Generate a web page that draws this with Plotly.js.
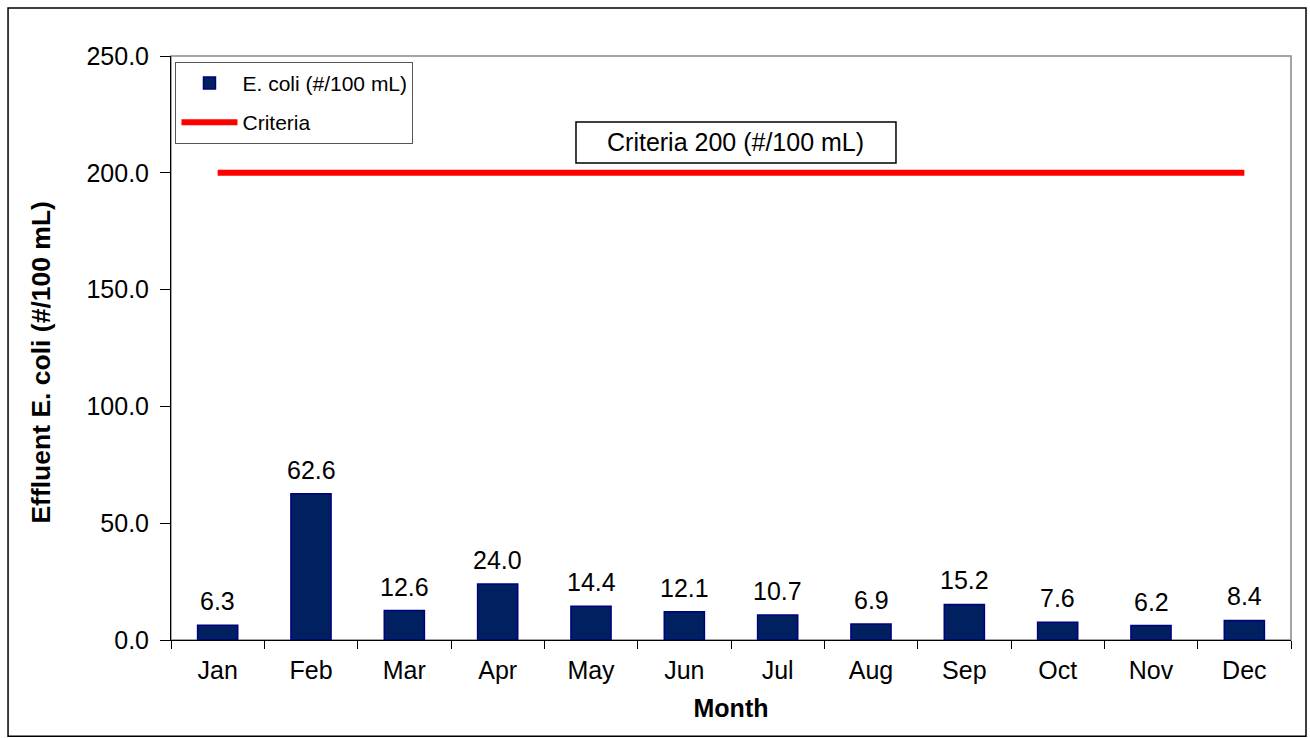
<!DOCTYPE html>
<html>
<head>
<meta charset="utf-8">
<script src="https://cdn.plot.ly/plotly-3.0.1.min.js"></script>
<style>html,body{margin:0;padding:0;background:#fff;}#chart{width:1310px;height:738px;}</style>
</head>
<body>
<div id="chart"></div>
<script>
const months = ["Jan","Feb","Mar","Apr","May","Jun","Jul","Aug","Sep","Oct","Nov","Dec"];
const ecoli = [6.3, 62.6, 12.6, 24.0, 14.4, 12.1, 10.7, 6.9, 15.2, 7.6, 6.2, 8.4];
const criteria = [200,200,200,200,200,200,200,200,200,200,200,200];
const criteriaLabel = "Criteria 200 (#/100 mL)";
const yTitle = "Effluent E. coli (#/100 mL)";
const xTitle = "Month";

const font = "Liberation Sans, Arial, sans-serif";
const fs = 25;

const traces = [
  {
    type: "bar", x: months, y: ecoli, name: "E. coli (#/100 mL)",
    legendgroup: "g1",
    width: 0.43,
    marker: {color: "#002060", line: {color: "#000080", width: 1.5}}
  },
  {
    type: "scatter", mode: "lines", x: months, y: criteria, name: "Criteria",
    legendgroup: "g2",
    line: {color: "#ff0000", width: 6}
  }
];

const labelAnnotations = months.map((m, i) => ({
  x: m, y: ecoli[i], xref: "x", yref: "y",
  text: ecoli[i].toFixed(1), showarrow: false,
  xanchor: "center", yanchor: "bottom", yshift: 8,
  font: {family: font, size: fs, color: "#000"}
}));

const layout = {
  width: 1310, height: 738,
  margin: {l: 171, r: 19, t: 56, b: 98},
  paper_bgcolor: "#fff", plot_bgcolor: "#fff",
  font: {family: font, color: "#000", size: fs},
  showlegend: true,
  legend: {
    x: 0.004, y: 0.99, xanchor: "left", yanchor: "top",
    bgcolor: "#fff", bordercolor: "#555", borderwidth: 1,
    font: {family: font, size: 21, color: "#000"},
    itemwidth: 56,
    tracegroupgap: 9
  },
  xaxis: {
    type: "category",
    tickson: "boundaries", ticks: "outside", ticklen: 8, tickcolor: "#000",
    ticklabelstandoff: 8,
    showline: true, linecolor: "#000", linewidth: 1,
    showgrid: false, zeroline: false,
    tickfont: {family: font, size: fs},
    title: {text: xTitle, font: {family: font, size: fs, weight: "bold"}, standoff: 16}
  },
  yaxis: {
    range: [0, 250], dtick: 50, tickformat: ".1f",
    ticks: "outside", ticklen: 10, tickcolor: "#000",
    ticklabelstandoff: 6,
    showline: true, linecolor: "#000", linewidth: 1,
    showgrid: false, zeroline: false,
    tickfont: {family: font, size: fs}
  },
  annotations: labelAnnotations.concat([
    {
      xref: "paper", yref: "paper", x: 0.504, y: 0.853,
      text: criteriaLabel, showarrow: false,
      font: {family: font, size: fs, color: "#000"},
      xanchor: "center", yanchor: "middle"
    },
    {
      xref: "paper", yref: "paper", x: -0.1161, y: 0.475,
      text: "<b>" + yTitle + "</b>", showarrow: false, textangle: -90,
      font: {family: font, size: 26.5, color: "#000"},
      xanchor: "center", yanchor: "middle"
    }
  ]),
  shapes: [
    {type: "rect", xref: "paper", yref: "paper", x0: 0, x1: 1, y0: 0, y1: 1,
     line: {color: "#888", width: 1.5}, layer: "below"},
    {type: "rect", xref: "paper", yref: "paper", x0: -0.1455, x1: 1.0134, y0: -0.165, y1: 1.0822,
     line: {color: "#000", width: 1.5}, layer: "below"},
    {type: "rect", xref: "paper", yref: "paper", x0: 0.3616, x1: 0.6473, y0: 0.8168, y1: 0.887,
     line: {color: "#000", width: 1.5}, fillcolor: "#fff", layer: "above"}
  ]
};

Plotly.newPlot("chart", traces, layout, {displayModeBar: false, staticPlot: true});
</script>
</body>
</html>
